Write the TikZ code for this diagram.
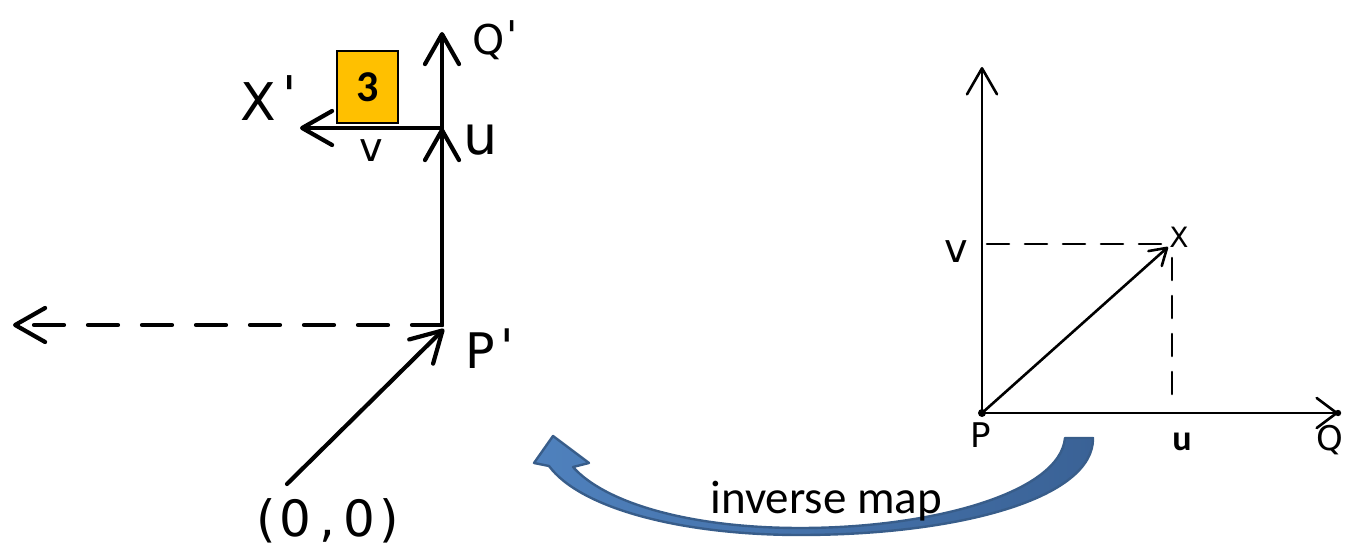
\documentclass[tikz,border=0pt]{standalone}
\usepackage{fontspec}
\setmainfont{DejaVu Sans}
\newfontfamily\calfont{Carlito}
\usetikzlibrary{arrows.meta}
\definecolor{boxyellow}{HTML}{FFC000}
\definecolor{blueA}{HTML}{4F81BD}
\definecolor{blueB}{HTML}{3A6296}
\definecolor{blueEdge}{HTML}{385D8A}
\begin{document}
\begin{tikzpicture}[x=0.5pt,y=-0.5pt,
  thickline/.style={line width=2.1pt,line cap=round,line join=round},
  thinline/.style={line width=1.3pt,line cap=round,line join=round},
  bigtip/.style={-{Straight Barb[length=15pt,width=17pt,round]}},
  rtip/.style={-{Straight Barb[length=13pt,width=15pt,round]}},
  stip/.style={-{Straight Barb[length=8pt,width=10pt,round]}},
  lbl/.style={inner sep=0pt,anchor=base west},
  ]
\path[use as bounding box] (0,0) rectangle (1350,551);

% ---------- blue curved arrow ----------
\path[draw=blueEdge,line width=1.2pt,line join=round,left color=blueA,right color=blueB]
  (1093,438) .. controls (1094,498) and (960,535) .. (800,535)
  .. controls (680,535) and (580,508) .. (549,466)
  -- (534,463) -- (553,436) -- (589,463) -- (573,467)
  .. controls (605,503) and (690,528) .. (800,528)
  .. controls (935,528) and (1060,492) .. (1065,438) -- cycle;
\node[lbl,font=\calfont\fontsize{23.5pt}{26pt}\selectfont] (inv) at (710,513) {inverse map};

% ---------- left figure ----------
\coordinate (Pp) at (442,325);
\coordinate (Qp) at (442,32);
\coordinate (U)  at (442,128);
\coordinate (Xp) at (300,128);
\coordinate (L)  at (13,325);
\coordinate (O)  at (287,484);
\coordinate (Ptip) at (444,329);

\draw[thickline,bigtip] (Pp) -- (Qp);
\draw[thickline,bigtip] (Pp) -- (U);
\draw[thickline,bigtip] (U) -- (Xp);
\draw[thickline,bigtip,dash pattern=on 15pt off 12pt] (Pp) -- (L);
\draw[thickline,bigtip] (O) -- (Ptip);

\node[draw=black,line width=0.8pt,fill=boxyellow,minimum width=30.5pt,minimum height=36pt,
      inner sep=0pt,font=\calfont\bfseries\fontsize{22pt}{24pt}\selectfont] (three) at (367.5,87) {3};

\node[lbl,font=\fontsize{26pt}{28pt}\selectfont] (lX) at (240,120) {X\kern3pt\raisebox{3pt}{\textquotesingle}};
\node[lbl,font=\fontsize{20.5pt}{22pt}\selectfont] (lQ) at (472,55) {Q\kern1pt\raisebox{2pt}{\textquotesingle}};
\node[lbl,font=\fontsize{27pt}{29pt}\selectfont] (lu) at (463,155) {u};
\node[lbl,font=\fontsize{20pt}{22pt}\selectfont] (lv) at (359,162) {v};
\node[lbl,font=\fontsize{24.5pt}{26pt}\selectfont] (lP) at (465,368) {P\kern3pt\raisebox{2pt}{\textquotesingle}};
\node[lbl,font=\fontsize{25pt}{27pt}\selectfont] (lO) at (256,536) {(\kern2pt0\kern4pt,\kern4pt0\kern2pt)};

% ---------- right figure ----------
\coordinate (P) at (982,413);
\coordinate (V) at (982,67);
\coordinate (Q) at (1338,413);
\coordinate (X) at (1168,247);
\coordinate (Vd) at (987,244);
\coordinate (Vx) at (1162,244);
\coordinate (Ud) at (1172,258);
\coordinate (Ub) at (1172,408);

\draw[thinline,rtip] (P) -- (V);
\draw[thinline,-{Straight Barb[length=10pt,width=15pt,round]}] (P) -- (Q);
\draw[thinline,stip] (P) -- (X);
\draw[thinline,dash pattern=on 11pt off 8pt] (Vd) -- (Vx);
\draw[thinline,dash pattern=on 11pt off 8pt] (Ud) -- (Ub);
\fill (P) circle (2pt);
\fill (Q) circle (1.6pt);

\node[lbl,font=\fontsize{17pt}{19pt}\selectfont] (rP) at (970,447) {P};
\node[lbl,font=\fontsize{17pt}{19pt}\selectfont] (rQ) at (1316,450) {Q};
\node[lbl,font=\calfont\bfseries\fontsize{18pt}{20pt}\selectfont] (ru) at (1172,450) {u};
\node[lbl,font=\fontsize{20pt}{22pt}\selectfont] (rv) at (944,262) {v};
\node[lbl,font=\fontsize{14pt}{16pt}\selectfont] (rX) at (1169,247) {X};
\end{tikzpicture}
\end{document}
